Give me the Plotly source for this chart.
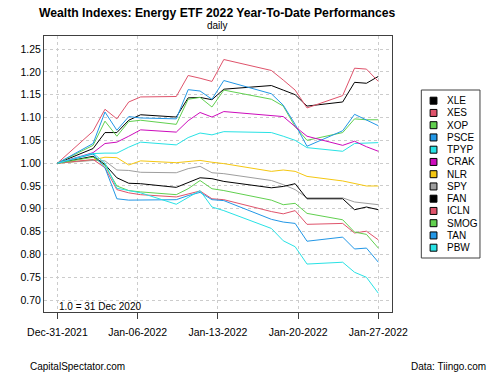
import plotly.graph_objects as go
from datetime import datetime, timedelta

dates = ["2021-12-31", "2022-01-03", "2022-01-04", "2022-01-05", "2022-01-06", "2022-01-07",
         "2022-01-10", "2022-01-11", "2022-01-12", "2022-01-13", "2022-01-14",
         "2022-01-18", "2022-01-19", "2022-01-20", "2022-01-21",
         "2022-01-24", "2022-01-25", "2022-01-26", "2022-01-27"]

XLE  = [1.00, 1.032, 1.067, 1.067, 1.094, 1.106, 1.101, 1.143, 1.144, 1.139, 1.162, 1.170, 1.160, 1.150, 1.125, 1.134, 1.177, 1.175, 1.190]
XES  = [1.00, 1.070, 1.118, 1.097, 1.134, 1.145, 1.146, 1.192, 1.186, 1.179, 1.227, 1.203, 1.182, 1.160, 1.121, 1.148, 1.208, 1.206, 1.179]
XOP  = [1.00, 1.039, 1.092, 1.059, 1.091, 1.094, 1.085, 1.140, 1.144, 1.123, 1.160, 1.140, 1.125, 1.080, 1.050, 1.067, 1.097, 1.095, 1.095]
PSCE = [1.00, 1.043, 1.112, 1.072, 1.102, 1.099, 1.097, 1.161, 1.158, 1.140, 1.181, 1.152, 1.127, 1.085, 1.037, 1.071, 1.107, 1.095, 1.082]
TPYP = [1.00, 1.021, 1.022, 1.022, 1.035, 1.046, 1.040, 1.056, 1.066, 1.062, 1.069, 1.067, 1.059, 1.050, 1.034, 1.026, 1.043, 1.044, 1.045]
CRAK = [1.00, 1.023, 1.043, 1.046, 1.059, 1.073, 1.068, 1.093, 1.111, 1.101, 1.113, 1.104, 1.102, 1.080, 1.059, 1.039, 1.048, 1.036, 1.026]
NLR  = [1.00, 1.007, 1.013, 1.012, 0.996, 1.005, 1.001, 1.003, 1.006, 1.002, 0.999, 0.982, 0.985, 0.982, 0.971, 0.961, 0.956, 0.950, 0.950]
SPY  = [1.00, 1.006, 1.005, 0.985, 0.984, 0.980, 0.979, 0.988, 0.993, 0.979, 0.977, 0.962, 0.953, 0.942, 0.924, 0.924, 0.915, 0.912, 0.909]
FAN  = [1.00, 1.015, 0.997, 0.968, 0.956, 0.955, 0.947, 0.957, 0.968, 0.966, 0.960, 0.946, 0.949, 0.955, 0.922, 0.922, 0.898, 0.904, 0.898]
ICLN = [1.00, 1.008, 0.990, 0.942, 0.935, 0.931, 0.926, 0.933, 0.939, 0.922, 0.920, 0.894, 0.889, 0.896, 0.866, 0.868, 0.847, 0.851, 0.832]
SMOG = [1.00, 1.013, 0.995, 0.950, 0.940, 0.937, 0.931, 0.944, 0.962, 0.944, 0.940, 0.919, 0.909, 0.912, 0.890, 0.876, 0.849, 0.844, 0.814]
TAN  = [1.00, 1.020, 0.990, 0.922, 0.919, 0.919, 0.920, 0.929, 0.936, 0.920, 0.918, 0.877, 0.871, 0.868, 0.829, 0.838, 0.812, 0.814, 0.783]
PBW  = [1.00, 1.022, 1.000, 0.945, 0.940, 0.935, 0.910, 0.925, 0.940, 0.904, 0.896, 0.857, 0.830, 0.817, 0.779, 0.783, 0.761, 0.750, 0.715]

names = ["XLE", "XES", "XOP", "PSCE", "TPYP", "CRAK", "NLR", "SPY", "FAN", "ICLN", "SMOG", "TAN", "PBW"]
series = [XLE, XES, XOP, PSCE, TPYP, CRAK, NLR, SPY, FAN, ICLN, SMOG, TAN, PBW]
palette = ["#000000", "#DF536B", "#61D04F", "#2297E6", "#28E2E5", "#CD0BBC", "#F5C710", "#9E9E9E"]
colors = [palette[i % 8] for i in range(len(names))]

xtick_labels = ["Dec-31-2021", "Jan-06-2022", "Jan-13-2022", "Jan-20-2022", "Jan-27-2022"]
ytick_vals = [0.70, 0.75, 0.80, 0.85, 0.90, 0.95, 1.00, 1.05, 1.10, 1.15, 1.20, 1.25]

FONT = "Liberation Sans, Arial, sans-serif"
OFF = 8  # page body margin of the browser
W, H = 500 - OFF, 375 - OFF
# plot area in window pixels
L, R, T, B = 36, 392, 36, 312

def px(x):
    return (x - L) / (R - L)

def py(y):
    return (B - y) / (B - T)

fig = go.Figure()
for name, vals, col in zip(names, series, colors):
    fig.add_trace(go.Scatter(x=dates, y=vals, mode="lines", name=name,
                             line=dict(color=col, width=1), showlegend=False))

d0 = datetime.fromisoformat(dates[0])
d1 = datetime.fromisoformat(dates[-1])
span = d1 - d0
tickvals = [d0 + span * k / 4 for k in range(5)]
xrange = [d0 - timedelta(days=1.13), d1 + timedelta(days=1.15)]

fig.update_xaxes(type="date", range=xrange, tickvals=tickvals, ticktext=xtick_labels,
                 showgrid=True, gridcolor="#CCCCCC", griddash="dot", gridwidth=1,
                 showline=True, mirror=True, linecolor="#404040", linewidth=1,
                 ticks="outside", ticklen=6, tickcolor="#404040", ticklabelstandoff=4,
                 tickfont=dict(family=FONT, size=10.5, color="#000"), zeroline=False)
fig.update_yaxes(range=[0.674, 1.2785], tickvals=ytick_vals, tickformat=".2f",
                 showgrid=True, gridcolor="#CCCCCC", griddash="dot", gridwidth=1,
                 showline=True, mirror=True, linecolor="#404040", linewidth=1,
                 ticks="", tickfont=dict(family=FONT, size=10.5, color="#000"), zeroline=False)

ann = []
ann.append(dict(text="<b>Wealth Indexes: Energy ETF 2022 Year-To-Date Performances</b>",
                x=px(213), y=py(13.5), xref="paper", yref="paper", showarrow=False,
                xanchor="center", yanchor="middle", font=dict(family=FONT, size=12.2, color="#000")))
ann.append(dict(text="daily", x=px(213), y=py(25.5), xref="paper", yref="paper", showarrow=False,
                xanchor="center", yanchor="middle", font=dict(family=FONT, size=10, color="#000")))
ann.append(dict(text="1.0 = 31 Dec 2020", x=px(49), y=py(306), xref="paper", yref="paper",
                showarrow=False, xanchor="left", yanchor="middle", font=dict(family=FONT, size=10, color="#000")))
ann.append(dict(text="CapitalSpectator.com", x=px(20), y=py(366), xref="paper", yref="paper",
                showarrow=False, xanchor="left", yanchor="middle", font=dict(family=FONT, size=10, color="#000")))
ann.append(dict(text="Data: Tiingo.com", x=px(490), y=py(366), xref="paper", yref="paper",
                showarrow=False, xanchor="right", yanchor="middle", font=dict(family=FONT, size=10, color="#000")))

shapes = []
# manual legend box
shapes.append(dict(type="rect", xref="paper", yref="paper", x0=px(422), x1=px(482), y0=py(90), y1=py(258),
                   line=dict(color="#404040", width=1), fillcolor="white"))
for i, (name, col) in enumerate(zip(names, colors)):
    yc = 100.7 + 12.25 * i
    shapes.append(dict(type="rect", xref="paper", yref="paper", x0=px(431), x1=px(438),
                       y0=py(yc + 3.5), y1=py(yc - 3.5), line=dict(color="#000", width=1), fillcolor=col))
    ann.append(dict(text=name, x=px(446), y=py(yc), xref="paper", yref="paper", showarrow=False,
                    xanchor="left", yanchor="middle", font=dict(family=FONT, size=10, color="#000")))

fig.update_layout(width=W, height=H,
                  margin=dict(l=L - OFF, r=W - (R - OFF), t=T - OFF, b=H - (B - OFF)),
                  paper_bgcolor="white", plot_bgcolor="white",
                  annotations=ann, shapes=shapes, showlegend=False)

fig.write_html("out.html")
